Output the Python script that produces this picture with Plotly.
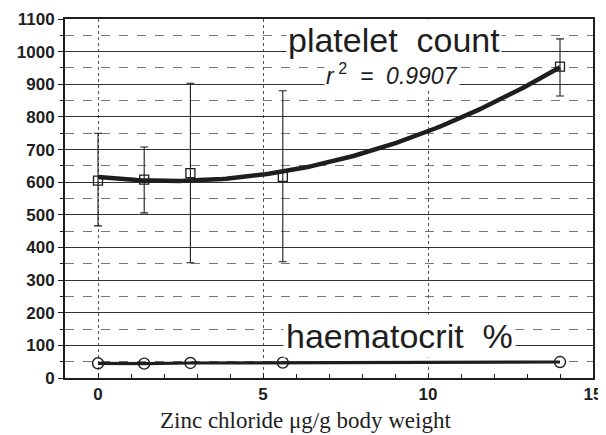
import numpy as np
import plotly.graph_objects as go

dose = [0, 1.4, 2.8, 5.6, 14]
platelet = [605, 608, 628, 616, 954]
platelet_hi = [750, 708, 903, 880, 1039]
platelet_lo = [466, 506, 353, 356, 864]
haematocrit = [45, 44, 46, 47, 49]

x_ticks = [0, 5, 10, 15]
y_ticks = list(range(0, 1101, 100))

err_plus = [h - v for h, v in zip(platelet_hi, platelet)]
err_minus = [v - l for l, v in zip(platelet_lo, platelet)]

# quadratic trendline fitted to platelet means
coef = np.polyfit(dose, platelet, 2)
xf = np.linspace(min(dose), max(dose), 120)
yf = np.polyval(coef, xf)

INK = "#1e1e1e"
fig = go.Figure()

fig.add_trace(go.Scatter(
    x=dose, y=platelet, mode="markers",
    marker=dict(symbol="square-open", size=9, color=INK, line=dict(width=1.3, color=INK)),
    error_y=dict(type="data", array=err_plus, arrayminus=err_minus,
                 thickness=1.1, width=4, color=INK),
    showlegend=False))
fig.add_trace(go.Scatter(x=xf, y=yf, mode="lines",
                         line=dict(color=INK, width=4.5), showlegend=False))
fig.add_trace(go.Scatter(
    x=dose, y=haematocrit, mode="lines+markers",
    line=dict(color=INK, width=3.2),
    marker=dict(symbol="circle-open", size=11, color=INK, line=dict(width=1.4, color=INK)),
    showlegend=False))

# page body has an 8px margin, so the figure is sized 8px smaller
fig.update_layout(
    width=598, height=427,
    margin=dict(l=57, r=13, t=11, b=57, autoexpand=False),
    paper_bgcolor="white", plot_bgcolor="white",
    font=dict(family="Liberation Sans, Arial, sans-serif", color=INK),
    xaxis=dict(range=[-1, 15], tickvals=x_ticks, ticktext=[str(v) for v in x_ticks],
               tickfont=dict(size=17, family="Liberation Sans, Arial", weight="bold"),
               showgrid=True, gridcolor="#555", griddash="dot", gridwidth=1,
               showline=True, linecolor=INK, linewidth=2, mirror=True,
               ticks="inside", ticklen=5, tickcolor=INK, automargin=False,
               minor=dict(dtick=1, ticks="inside", ticklen=4, tickcolor=INK, showgrid=False),
               zeroline=False),
    yaxis=dict(range=[0, 1100], tickvals=y_ticks,
               tickfont=dict(size=17, family="Liberation Sans, Arial", weight="bold"),
               showgrid=True, gridcolor="#333", gridwidth=1.2, automargin=False,
               showline=True, linecolor=INK, linewidth=2, mirror=True,
               ticks="outside", ticklen=5, tickcolor=INK,
               minor=dict(dtick=50, ticks="outside", ticklen=3, tickcolor=INK,
                          showgrid=True, gridcolor="#777", griddash="dash", gridwidth=1),
               zeroline=False),
)

fig.add_annotation(x=0.456, y=-0.117, xref="paper", yref="paper",
                   xanchor="center", yanchor="middle",
                   text="Zinc chloride μg/g body weight", showarrow=False,
                   font=dict(family="Liberation Serif, Times New Roman, serif", size=23, color=INK))
fig.add_annotation(x=8.97, y=1037, text="platelet  count", showarrow=False,
                   font=dict(size=34, family="Liberation Sans, Arial", color=INK),
                   bgcolor="white", borderpad=1)
fig.add_annotation(x=8.9, y=930, text="<i>r</i><sup> 2</sup><i>  =  0.9907</i>", showarrow=False,
                   font=dict(size=23, family="Liberation Sans, Arial", color=INK),
                   bgcolor="white", borderpad=1)
fig.add_annotation(x=9.15, y=128, text="haematocrit  %", showarrow=False,
                   font=dict(size=34, family="Liberation Sans, Arial", color=INK),
                   bgcolor="white", borderpad=2)

fig.write_html("out.html")
